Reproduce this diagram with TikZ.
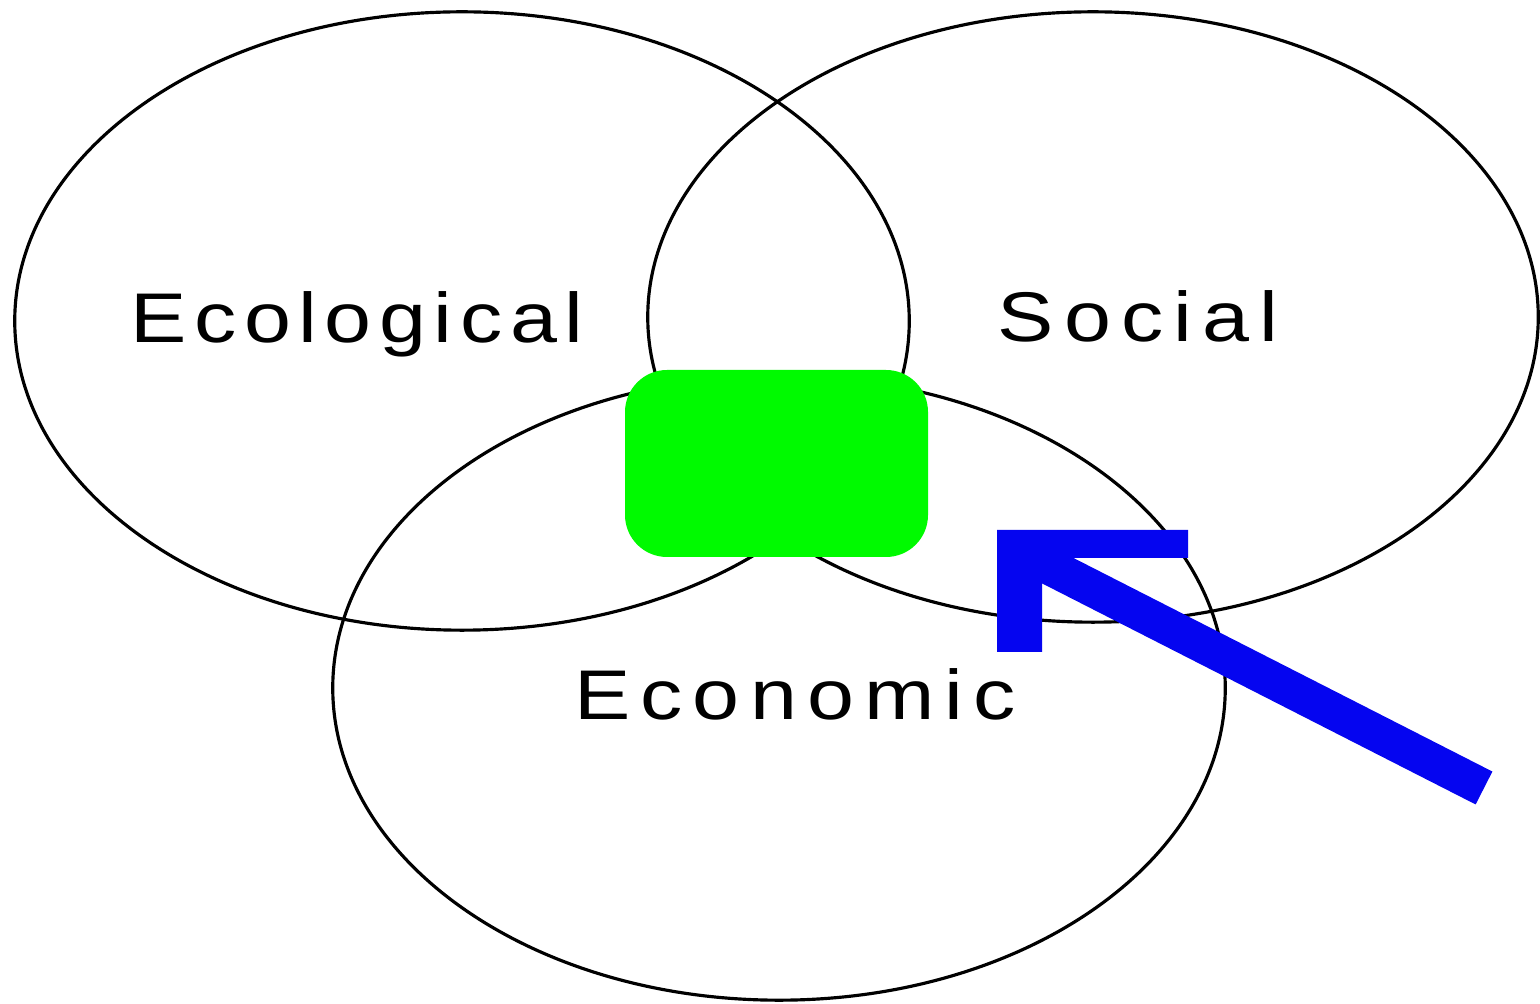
\documentclass[tikz,border=0pt]{standalone}
\usepackage{graphicx}
\usepackage{fontspec}
\setmainfont{Liberation Sans}
\usetikzlibrary{shapes.geometric}
\definecolor{vgreen}{RGB}{0,250,0}
\definecolor{vblue}{RGB}{5,5,240}
\newcommand\widetext[1]{\scalebox{1.2}[1]{#1}}
\begin{document}
\begin{tikzpicture}[x=0.01cm,y=-0.01cm,
  circ/.style={ellipse,draw=black,line width=0.9pt,inner sep=0pt,outer sep=0pt},
  lbl/.style={anchor=base,inner sep=0pt,font=\fontsize{20}{24}\selectfont\addfontfeature{LetterSpace=12}},
  lbltight/.style={anchor=base,inner sep=0pt,font=\fontsize{20}{24}\selectfont\addfontfeature{LetterSpace=9}}]
\useasboundingbox (0,0) rectangle (1540,1004);
\fill[white] (0,0) rectangle (1540,1004);
\node[circ,minimum width=8.94cm,minimum height=6.18cm] (eco) at (462,321) {};
\node[circ,minimum width=8.90cm,minimum height=6.10cm] (soc) at (1093,317) {};
\node[circ,minimum width=8.92cm,minimum height=6.24cm] (econ) at (779,688) {};
\fill[vgreen,rounded corners=0.42cm] (625,370) rectangle (928,557);
\node[lbltight] (tEco) at (357,343) {\widetext{Ecological}};
\node[lbl] (tSoc) at (1138,342) {\widetext{Social}};
\node[lbl] (tEcon) at (795,719) {\widetext{Economic}};
\coordinate (tail) at (1484,788);
\coordinate (tip) at (1025,554);
\draw[vblue,line width=10.5pt] (tail) -- (tip);
\fill[vblue] (997,530) -- (1188,530) -- (1188,558) -- (1042,558) -- (1042,652) -- (997,652) -- cycle;
\end{tikzpicture}
\end{document}
